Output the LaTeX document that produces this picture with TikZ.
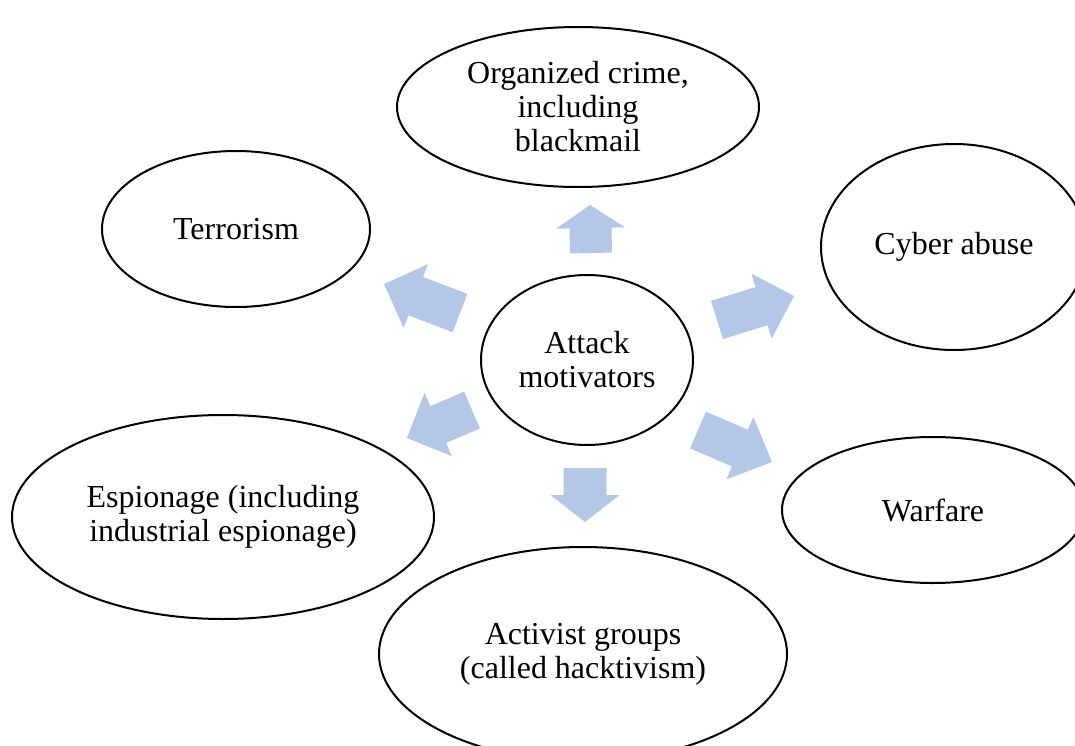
\documentclass[tikz,border=0pt]{standalone}
\usepackage{fontspec}
\setmainfont{Liberation Serif}
\usetikzlibrary{shapes.geometric,calc}
\definecolor{arrowblue}{HTML}{B4C7E7}
\tikzset{
  motive/.style={ellipse, draw=black, line width=2pt, fill=white, inner sep=0pt,
    align=center, font=\fontsize{32}{34}\selectfont},
  blockfill/.style={fill=arrowblue, draw=none}
}
\newcommand\blockarrow[5]{%
  \coordinate (hb) at ($(#2)!#5pt!(#1)$);
  \fill[blockfill] ($(#1)!#3pt!90:(#2)$) -- ($(hb)!#3pt!90:(#2)$) -- ($(hb)!#4pt!90:(#2)$) -- (#2)
    -- ($(hb)!#4pt!-90:(#2)$) -- ($(hb)!#3pt!-90:(#2)$) -- ($(#1)!#3pt!-90:(#2)$) -- cycle;
}
\begin{document}
\begin{tikzpicture}[x=1pt,y=-1pt]
\useasboundingbox (0,0) rectangle (1075,746);
\clip (0,0) rectangle (1075,746);
\fill[white] (0,0) rectangle (1075,746);

\node[motive, minimum width=212, minimum height=170] (center) at (587,360) {Attack\\motivators};
\node[motive, minimum width=362, minimum height=160] (crime) at (578,107) {Organized crime,\\including\\blackmail};
\node[motive, minimum width=268, minimum height=156] (terror) at (236,229) {Terrorism};
\node[motive, minimum width=266, minimum height=206] (cyber) at (954,247) {Cyber abuse};
\node[motive, minimum width=302, minimum height=146] (war) at (933,510) {Warfare};
\node[motive, minimum width=422, minimum height=204] (espionage) at (223,517) {Espionage (including\\industrial espionage)};
\node[motive, minimum width=408, minimum height=214] (activist) at (583,654) {Activist groups\\(called hacktivism)};

% arrow tails and tips
\coordinate (upT) at (591,253);  \coordinate (upH) at (590,205);
\coordinate (dnT) at (585,468);  \coordinate (dnH) at (585,522);
\coordinate (ulT) at (460,313);  \coordinate (ulH) at (384,284);
\coordinate (urT) at (717,320);  \coordinate (urH) at (794,296);
\coordinate (llT) at (472,410);  \coordinate (llH) at (407,438);
\coordinate (lrT) at (698,430);  \coordinate (lrH) at (772,462);

\blockarrow{upT}{upH}{21}{34.5}{23}
\blockarrow{dnT}{dnH}{21.5}{34.5}{27}
\blockarrow{ulT}{ulH}{20.5}{34}{34}
\blockarrow{urT}{urH}{20}{34}{34}
\blockarrow{llT}{llH}{20}{34.5}{34}
\blockarrow{lrT}{lrH}{20}{34}{35}
\end{tikzpicture}
\end{document}
